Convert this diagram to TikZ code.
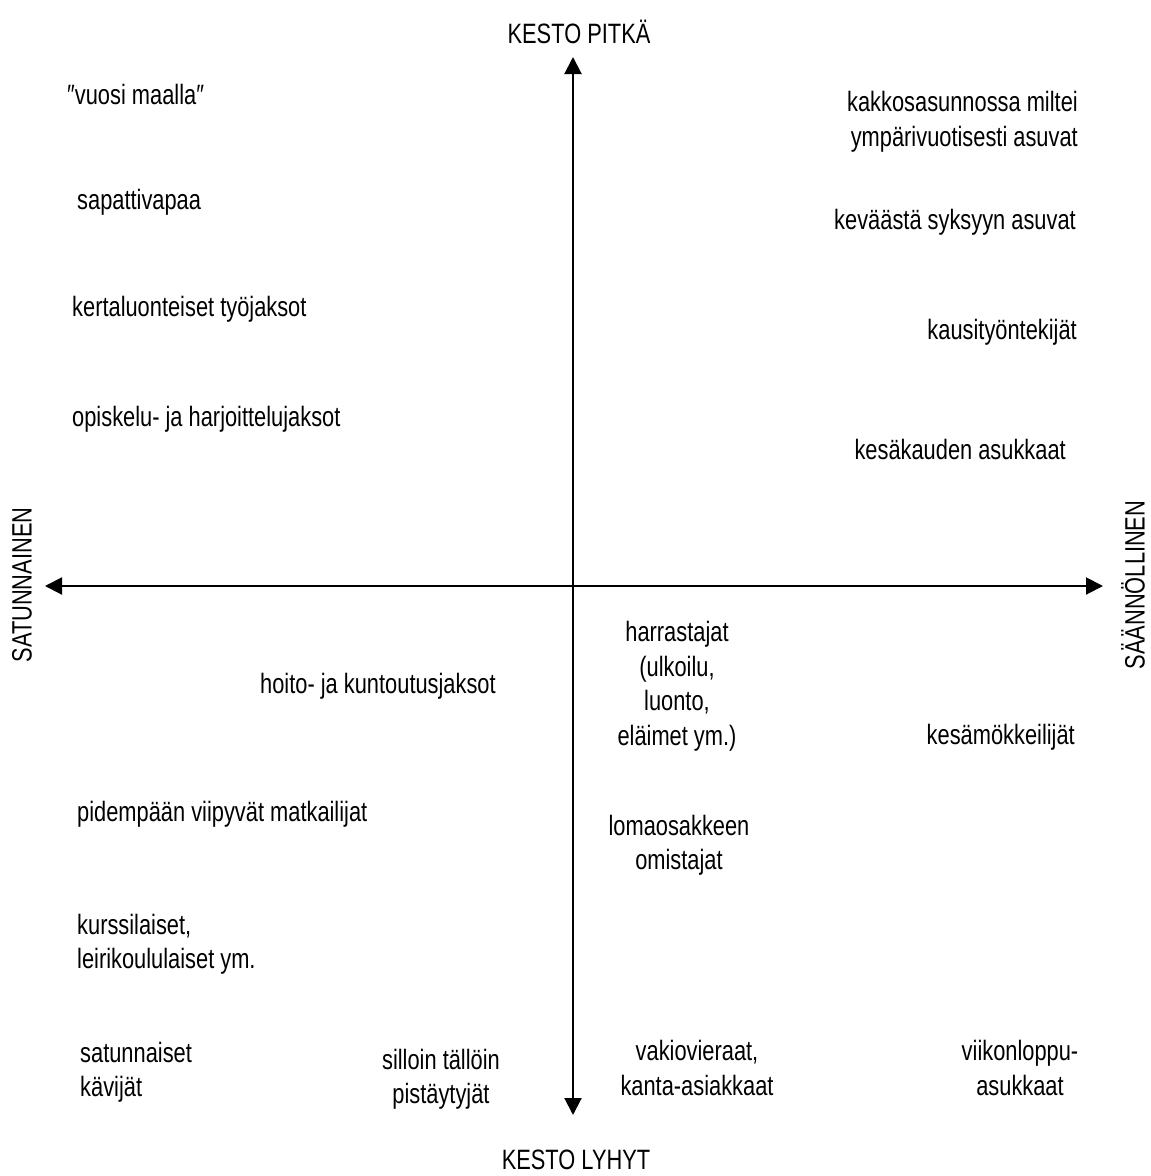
\documentclass[tikz,border=0pt]{standalone}
\usepackage{fontspec}
\setmainfont[FakeStretch=0.78]{Liberation Sans}
\usetikzlibrary{arrows.meta}
\begin{document}
\begin{tikzpicture}[x=1pt,y=-1pt,
  lbl/.style={inner sep=0pt,font=\fontsize{28}{34.5}\selectfont},
  lw/.style={lbl,anchor=west,align=left},
  le/.style={lbl,anchor=east,align=right},
  lc/.style={lbl,anchor=center,align=center},
  axis/.style={line width=2pt,-{Triangle[length=17pt,width=17pt]}}]
\useasboundingbox (0,0) rectangle (1151,1176);
% axis ends
\coordinate (c) at (573,586);
\coordinate (top) at (573,57);
\coordinate (bot) at (573,1115);
\coordinate (lft) at (45,586);
\coordinate (rgt) at (1103,586);
\draw[axis] (c) -- (top);
\draw[axis] (c) -- (bot);
\draw[axis] (c) -- (lft);
\draw[axis] (c) -- (rgt);
% axis titles
\node[lc] (tl) at (579,32) {KESTO PITKÄ};
\node[lc] (bl) at (576,1160) {KESTO LYHYT};
\node[lc,rotate=90] (ll) at (22,585) {SATUNNAINEN};
\node[lc,rotate=90] (rl) at (1133,585) {SÄÄNNÖLLINEN};
% upper left
\node[lw] (a1) at (67,94) {″vuosi maalla″};
\node[lw] (a2) at (77,202) {sapattivapaa};
\node[lw] (a3) at (72,309) {kertaluonteiset työjaksot};
\node[lw] (a4) at (72,419) {opiskelu- ja harjoittelujaksot};
% upper right
\node[le] (b1) at (1078,122) {kakkosasunnossa miltei\\ympärivuotisesti asuvat};
\node[le] (b2) at (1076,222) {keväästä syksyyn asuvat};
\node[le] (b3) at (1077,332) {kausityöntekijät};
\node[le] (b4) at (1066,449) {kesäkauden asukkaat};
% lower left
\node[lw] (d1) at (260,686) {hoito- ja kuntoutusjaksot};
\node[lw] (d2) at (77,814) {pidempään viipyvät matkailijat};
\node[lw] (d3) at (77,944) {kurssilaiset,\\leirikoululaiset ym.};
\node[lw] (d4) at (80,1072) {satunnaiset\\kävijät};
\node[lc] (d5) at (441,1079) {silloin tällöin\\pistäytyjät};
% lower right
\node[lc] (e1) at (677,686) {harrastajat\\(ulkoilu,\\luonto,\\eläimet ym.)};
\node[le] (e2) at (1075,737) {kesämökkeilijät};
\node[lc] (e3) at (679,845) {lomaosakkeen\\omistajat};
\node[lc] (e4) at (697,1068) {vakiovieraat,\\kanta-asiakkaat};
\node[lc] (e5) at (1020,1068) {viikonloppu-\\asukkaat};
\end{tikzpicture}
\end{document}
